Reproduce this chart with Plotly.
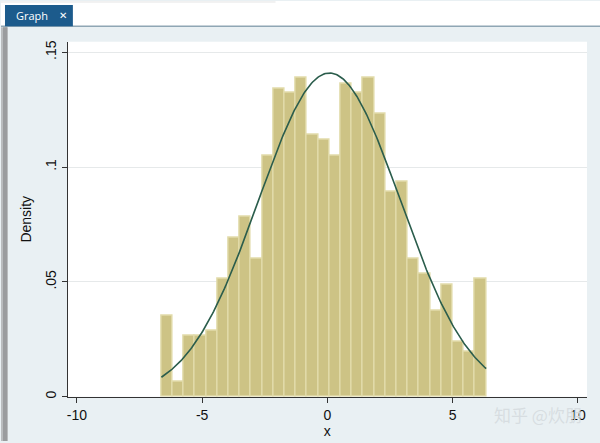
import numpy as np
import plotly.graph_objects as go

# ---- data ----
bin_start = -6.625          # left edge of first bin
bin_width = 0.4469          # bin width
density = [0.0354, 0.0066, 0.0267, 0.0267, 0.0289, 0.0513, 0.0693, 0.0784,
           0.0602, 0.1050, 0.1342, 0.1323, 0.1389, 0.1140, 0.1118, 0.1050,
           0.1363, 0.1323, 0.1389, 0.1231, 0.0894, 0.0938, 0.0602, 0.0534,
           0.0375, 0.0490, 0.0241, 0.0198, 0.0513]
normal_mean = 0.08
normal_sd = 2.83
x_ticks = [-10, -5, 0, 5, 10]
x_tick_text = ["-10", "-5", "0", "5", "10"]
y_ticks = [0, 0.05, 0.1, 0.15]
y_tick_text = ["0", ".05", ".1", ".15"]

n = len(density)
centers = [bin_start + bin_width * (i + 0.5) for i in range(n)]
xs = np.linspace(bin_start, bin_start + bin_width * n, 300)
ys = np.exp(-0.5 * ((xs - normal_mean) / normal_sd) ** 2) / (normal_sd * np.sqrt(2 * np.pi))

W, H = 600, 443
def px(x):
    return x / W
def py(y):
    return 1 - y / H

fig = go.Figure()
fig.add_trace(go.Bar(
    x=centers, y=density, width=bin_width,
    marker=dict(color="#cdc385", line=dict(color="#e2dcab", width=1.4)),
    showlegend=False, hoverinfo="skip"))
fig.add_trace(go.Scatter(
    x=xs, y=ys, mode="lines",
    line=dict(color="#2b5d4c", width=1.6),
    showlegend=False, hoverinfo="skip"))

axis_font = dict(family="Liberation Sans, Arial", size=14, color="#111111")

fig.update_layout(
    width=W, height=H,
    margin=dict(l=0, r=0, t=0, b=0),
    paper_bgcolor="#e9f0f3",
    plot_bgcolor="#ffffff",
    bargap=0,
    xaxis=dict(
        domain=[px(66.7), px(587)],
        range=[-10.37, 10.36],
        tickmode="array", tickvals=x_ticks, ticktext=x_tick_text,
        ticks="outside", ticklen=5, tickwidth=1, tickcolor="#333333",
        showgrid=False, zeroline=False,
        showline=True, linecolor="#333333", linewidth=1,
        tickfont=axis_font,
        title=dict(text="x", font=axis_font, standoff=2),
    ),
    yaxis=dict(
        domain=[py(398.5), py(41)],
        range=[0, 0.1546],
        tickmode="array", tickvals=y_ticks, ticktext=y_tick_text,
        tickangle=-90,
        ticks="outside", ticklen=5, tickwidth=1, tickcolor="#333333",
        showgrid=True, gridcolor="#e6e9ea", gridwidth=1,
        zeroline=False,
        showline=True, linecolor="#333333", linewidth=1,
        tickfont=axis_font,
        title=dict(text="Density", font=axis_font, standoff=8),
    ),
    shapes=[
        # white strip at the top (window chrome)
        dict(type="rect", xref="paper", yref="paper", x0=0, x1=1,
             y0=py(25.5), y1=1, fillcolor="#ffffff", line=dict(width=0), layer="below"),
        dict(type="line", xref="paper", yref="paper", x0=0, x1=px(275),
             y0=py(1), y1=py(1), line=dict(color="#e4e4e4", width=1)),
        # separator line below tab
        dict(type="line", xref="paper", yref="paper", x0=0, x1=1,
             y0=py(25.5), y1=py(25.5), line=dict(color="#8fa6b4", width=1.5)),
        # the tab
        dict(type="rect", xref="paper", yref="paper", x0=px(4), x1=px(72),
             y0=py(25.5), y1=py(4), fillcolor="#1c5b8c", line=dict(width=0)),
        # left gray border
        dict(type="rect", xref="paper", yref="paper", x0=0, x1=px(7),
             y0=0, y1=py(26.5), fillcolor="#b9bcbe", line=dict(width=0)),
        dict(type="rect", xref="paper", yref="paper", x0=px(2), x1=px(6),
             y0=0, y1=py(26.5), fillcolor="#9a9c9e", line=dict(width=0)),
    ],
    annotations=[
        dict(text="Graph", xref="paper", yref="paper", x=px(31), y=py(15),
             xanchor="center", yanchor="middle",
             showarrow=False, font=dict(family="Open Sans, Noto Sans", size=11, color="#ffffff")),
        dict(text="<b>✕</b>", xref="paper", yref="paper", x=px(62), y=py(15),
             xanchor="center", yanchor="middle",
             showarrow=False, font=dict(family="DejaVu Sans", size=10, color="#ffffff")),
        dict(text="知乎 @炊朋", xref="paper", yref="paper", x=px(538), y=py(416),
             xanchor="center", yanchor="middle",
             showarrow=False,
             font=dict(family="Noto Sans CJK SC", size=17, color="rgba(214,220,224,0.95)")),
    ],
)

fig.write_html(
    "out.html",
    config={"displayModeBar": False},
    post_script="document.body.style.margin='0';document.body.style.overflow='hidden';",
)
